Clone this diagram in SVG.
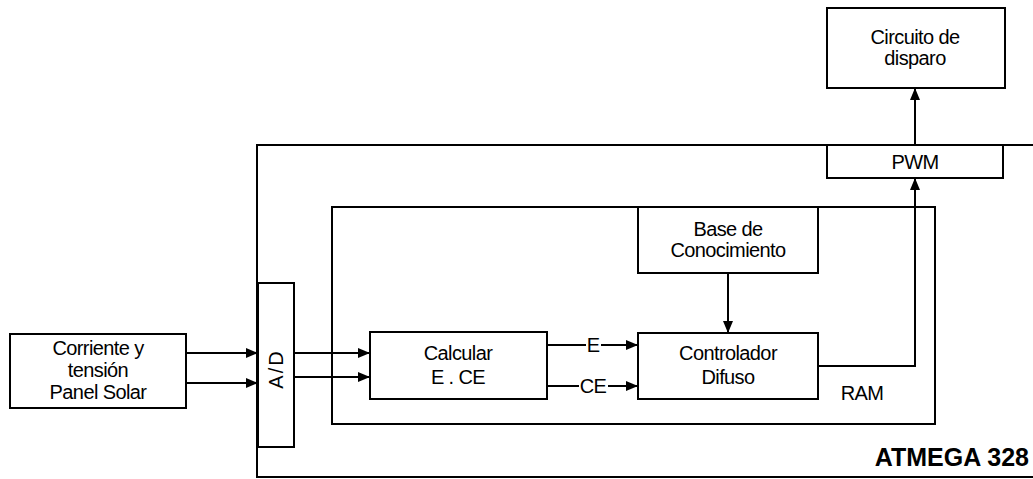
<svg xmlns="http://www.w3.org/2000/svg" width="1033" height="479" viewBox="0 0 1033 479">
<style>
.box{fill:none;stroke:#000;stroke-width:2}
.frame{fill:none;stroke:#000;stroke-width:2}
.t{font-family:"Liberation Sans",Arial,sans-serif;font-size:20px;fill:#000;text-anchor:middle;letter-spacing:-0.6px}
.c{fill:none;stroke:#000;stroke-width:2}
.b{font-family:"Liberation Sans",Arial,sans-serif;font-size:25px;font-weight:bold;fill:#000;text-anchor:end}
</style>
<defs>
<marker id="ah" viewBox="0 0 12 10" refX="12" refY="5" markerWidth="12" markerHeight="10" markerUnits="userSpaceOnUse" orient="auto">
<path d="M0,0 L12,5 L0,10 Z" fill="#000"/>
</marker>
</defs>
<g id="atmega">
<path class="frame" d="M1033,145 L257,145 L257,477 L1033,477"/>
<text class="b" x="1029" y="466">ATMEGA 328</text>
</g>
<g id="ram">
<rect class="box" x="332" y="207" width="603" height="217"/>
<text class="t" x="862" y="400">RAM</text>
</g>
<g id="corriente">
<rect class="box" x="10" y="334" width="176" height="74"/>
<text class="t" x="98" y="355">Corriente y</text>
<text class="t" x="98" y="377">tensión</text>
<text class="t" x="98" y="399">Panel Solar</text>
</g>
<g id="ad">
<rect class="box" x="258" y="283" width="36" height="164" fill="#fff"/>
<text class="t" x="0" y="0" style="letter-spacing:2px" transform="translate(283,369) rotate(-90)">A/D</text>
</g>
<g id="calcular">
<rect class="box" x="370" y="332" width="177" height="67"/>
<text class="t" x="458" y="360">Calcular</text>
<text class="t" x="458" y="384">E . CE</text>
</g>
<g id="base">
<rect class="box" x="638" y="207" width="180" height="66"/>
<text class="t" x="728" y="236">Base de</text>
<text class="t" x="728" y="257">Conocimiento</text>
</g>
<g id="controlador">
<rect class="box" x="638" y="333" width="180" height="66"/>
<text class="t" x="728" y="360">Controlador</text>
<text class="t" x="728" y="384">Difuso</text>
</g>
<g id="pwm">
<rect class="box" x="827" y="145" width="176" height="33"/>
<text class="t" x="915" y="169">PWM</text>
</g>
<g id="circuito">
<rect class="box" x="827" y="8" width="178" height="80"/>
<text class="t" x="915" y="44">Circuito de</text>
<text class="t" x="915" y="65">disparo</text>
</g>
<g id="connectors">
<line class="c" x1="186" y1="353" x2="258" y2="353" marker-end="url(#ah)"/>
<line class="c" x1="186" y1="383" x2="258" y2="383" marker-end="url(#ah)"/>
<line class="c" x1="294" y1="353" x2="370" y2="353" marker-end="url(#ah)"/>
<line class="c" x1="294" y1="377" x2="370" y2="377" marker-end="url(#ah)"/>
<line class="c" x1="547" y1="345" x2="586" y2="345"/>
<line class="c" x1="601" y1="345" x2="638" y2="345" marker-end="url(#ah)"/>
<text class="t" x="593" y="352">E</text>
<line class="c" x1="547" y1="386" x2="579" y2="386"/>
<line class="c" x1="608" y1="386" x2="638" y2="386" marker-end="url(#ah)"/>
<text class="t" x="593" y="393">CE</text>
<line class="c" x1="728" y1="273" x2="728" y2="333" marker-end="url(#ah)"/>
<polyline class="c" points="818,366 915,366 915,178" marker-end="url(#ah)"/>
<line class="c" x1="915" y1="145" x2="915" y2="88" marker-end="url(#ah)"/>
</g>
</svg>
